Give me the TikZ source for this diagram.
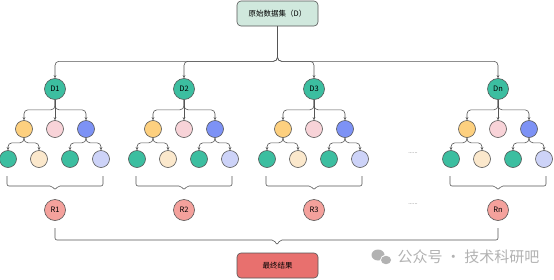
\documentclass[tikz,border=0pt]{standalone}
\usepackage{fontspec}
\newfontfamily\cjk{Noto Sans CJK SC}
\definecolor{lineGray}{RGB}{85,85,85}
\definecolor{srcGreen}{RGB}{208,232,221}
\definecolor{cTeal}{RGB}{60,190,160}
\definecolor{cOrange}{RGB}{253,208,127}
\definecolor{cPink}{RGB}{248,211,216}
\definecolor{cBlue}{RGB}{125,146,245}
\definecolor{cCream}{RGB}{251,232,204}
\definecolor{cLavender}{RGB}{205,211,248}
\definecolor{cSalmon}{RGB}{244,161,156}
\definecolor{cRed}{RGB}{232,112,110}
\definecolor{wmGray}{RGB}{178,178,178}
\usetikzlibrary{arrows.meta, positioning, calc}

\begin{document}
\begin{tikzpicture}[x=1pt, y=-1pt, font=\cjk\fontsize{7.5}{9}\selectfont,
  lnk/.style={-{Stealth[length=3pt, width=2.6pt]}, draw=lineGray, line width=0.6pt, rounded corners=4pt},
  brc/.style={draw=lineGray, line width=0.6pt, rounded corners=2pt},
  dnode/.style={circle, draw=lineGray, line width=0.6pt, fill=cTeal, minimum size=21pt, inner sep=0pt},
  leaf/.style={circle, draw=lineGray, line width=0.6pt, minimum size=17pt, inner sep=0pt},
  rnode/.style={circle, draw=lineGray, line width=0.6pt, fill=cSalmon, minimum size=21pt, inner sep=0pt},
  bigbox/.style={draw=lineGray, line width=0.6pt, rounded corners=4pt, minimum width=81pt, minimum height=25pt},
  gap/.style={font=\cjk\fontsize{5.5}{5.5}\selectfont, text=lineGray}]
  \useasboundingbox (0,0) rectangle (554,279);

  \node[bigbox, fill=srcGreen] (src) at (277.5,13.5) {原始数据集（D）};

  \foreach \cx/\lab/\rlab [count=\i] in {55/D1/R1, 184/D2/R2, 314/D3/R3, 498/Dn/Rn} {
    \node[dnode] (d\i) at (\cx,89) {\lab};
    \node[leaf, fill=cOrange] (d\i-a) at (\cx-31,129) {};
    \node[leaf, fill=cPink] (d\i-b) at (\cx,129) {};
    \node[leaf, fill=cBlue] (d\i-c) at (\cx+31,129) {};
    \node[leaf, fill=cTeal] (d\i-aa) at (\cx-47,159) {};
    \node[leaf, fill=cCream] (d\i-ab) at (\cx-16,159) {};
    \node[leaf, fill=cTeal] (d\i-ca) at (\cx+15,159) {};
    \node[leaf, fill=cLavender] (d\i-cb) at (\cx+46,159) {};
    \node[rnode] (r\i) at (\cx,210) {\rlab};

    \draw[lnk] (src.south) -- ++(0,35) -| (d\i.north);
    \draw[lnk] (d\i.south) -- ++(0,10) -| (d\i-a.north);
    \draw[lnk] (d\i) -- (d\i-b);
    \draw[lnk] (d\i.south) -- ++(0,10) -| (d\i-c.north);
    \draw[lnk] (d\i-a.south) -- ++(0,5) -| (d\i-aa.north);
    \draw[lnk] (d\i-a.south) -- ++(0,5) -| (d\i-ab.north);
    \draw[lnk] (d\i-c.south) -- ++(0,5) -| (d\i-ca.north);
    \draw[lnk] (d\i-c.south) -- ++(0,5) -| (d\i-cb.north);

    % brace under each tree
    \draw[brc] (\cx-48,176) -- (\cx-48,186) -- (\cx-3,186) -- (\cx,190)
      -- (\cx+3,186) -- (\cx+48,186) -- (\cx+48,176);
  }

  \node[gap] (gapA) at (413,153) {......};
  \node[gap] (gapB) at (413,204) {......};

  % brace over all results
  \draw[brc] (55,228) -- (55,240) -- (274,240) -- (277,245) -- (280,240)
    -- (498,240) -- (498,228);

  \node[bigbox, fill=cRed] (final) at (277.5,265.5) {最终结果};

  % watermark
  \fill[wmGray] (378,255) ellipse (6.5 and 5.5);
  \fill[white] (386,260) ellipse (6 and 5);
  \fill[wmGray] (386,260) ellipse (5 and 4.2);
  \node[font=\cjk\fontsize{15}{15}\selectfont, text=wmGray, anchor=west] (wmark) at (394,257)
    {公众号 · 技术科研吧};
\end{tikzpicture}
\end{document}
